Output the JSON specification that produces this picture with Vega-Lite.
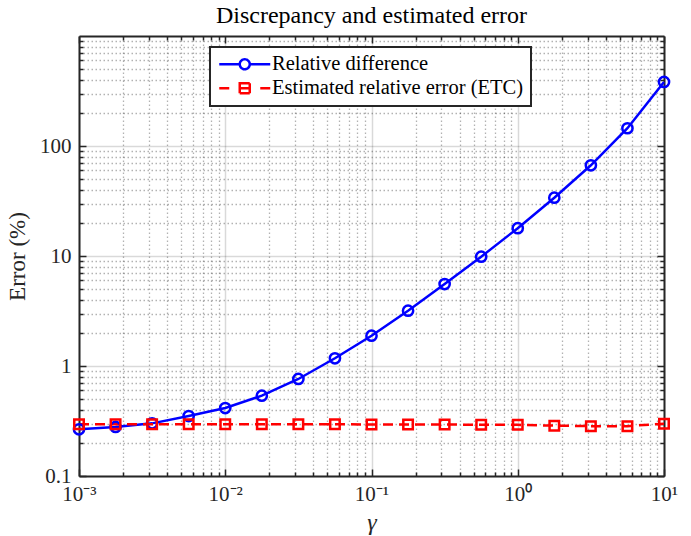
{
  "$schema": "https://vega.github.io/schema/vega-lite/v6.json",
  "width": 585,
  "height": 440,
  "autosize": "none",
  "padding": {"left": 79, "top": 36, "right": 27, "bottom": 60},
  "background": "white",
  "title": {
    "text": "Discrepancy and estimated error",
    "font": "Liberation Serif",
    "fontSize": 24,
    "fontWeight": "normal",
    "color": "#000000",
    "anchor": "middle",
    "baseline": "bottom",
    "offset": -17
  },
  "config": {
    "view": {"stroke": null},
    "axis": {
      "labelFont": "Liberation Serif",
      "titleFont": "Liberation Serif",
      "labelColor": "#262626",
      "titleColor": "#262626",
      "domainColor": "#262626",
      "tickColor": "#262626",
      "domainWidth": 2,
      "tickWidth": 1.5,
      "labelFlush": false,
      "labelOverlap": false,
      "zindex": 0
    }
  },
  "data": {
    "values": [
      {"g": 0.001, "series": "Relative difference", "v": 0.266},
      {"g": 0.0017783, "series": "Relative difference", "v": 0.279},
      {"g": 0.0031623, "series": "Relative difference", "v": 0.301},
      {"g": 0.0056234, "series": "Relative difference", "v": 0.351},
      {"g": 0.01, "series": "Relative difference", "v": 0.415},
      {"g": 0.017783, "series": "Relative difference", "v": 0.537},
      {"g": 0.031623, "series": "Relative difference", "v": 0.762},
      {"g": 0.056234, "series": "Relative difference", "v": 1.175},
      {"g": 0.1, "series": "Relative difference", "v": 1.885},
      {"g": 0.17783, "series": "Relative difference", "v": 3.18},
      {"g": 0.31623, "series": "Relative difference", "v": 5.56},
      {"g": 0.56234, "series": "Relative difference", "v": 9.86},
      {"g": 1, "series": "Relative difference", "v": 17.9},
      {"g": 1.7783, "series": "Relative difference", "v": 33.9},
      {"g": 3.1623, "series": "Relative difference", "v": 66.8},
      {"g": 5.6234, "series": "Relative difference", "v": 145},
      {"g": 10, "series": "Relative difference", "v": 382},
      {"g": 0.001, "series": "Estimated relative error (ETC)", "v": 0.296},
      {"g": 0.0017783, "series": "Estimated relative error (ETC)", "v": 0.296},
      {"g": 0.0031623, "series": "Estimated relative error (ETC)", "v": 0.296},
      {"g": 0.0056234, "series": "Estimated relative error (ETC)", "v": 0.296},
      {"g": 0.01, "series": "Estimated relative error (ETC)", "v": 0.296},
      {"g": 0.017783, "series": "Estimated relative error (ETC)", "v": 0.296},
      {"g": 0.031623, "series": "Estimated relative error (ETC)", "v": 0.296},
      {"g": 0.056234, "series": "Estimated relative error (ETC)", "v": 0.296},
      {"g": 0.1, "series": "Estimated relative error (ETC)", "v": 0.294},
      {"g": 0.17783, "series": "Estimated relative error (ETC)", "v": 0.294},
      {"g": 0.31623, "series": "Estimated relative error (ETC)", "v": 0.294},
      {"g": 0.56234, "series": "Estimated relative error (ETC)", "v": 0.292},
      {"g": 1, "series": "Estimated relative error (ETC)", "v": 0.292},
      {"g": 1.7783, "series": "Estimated relative error (ETC)", "v": 0.287},
      {"g": 3.1623, "series": "Estimated relative error (ETC)", "v": 0.284},
      {"g": 5.6234, "series": "Estimated relative error (ETC)", "v": 0.284},
      {"g": 10, "series": "Estimated relative error (ETC)", "v": 0.299}
    ]
  },
  "encoding": {
    "x": {
      "field": "g",
      "type": "quantitative",
      "scale": {"type": "log", "domain": [0.001, 10], "nice": false}
    },
    "y": {
      "field": "v",
      "type": "quantitative",
      "scale": {"type": "log", "domain": [0.1, 1000], "nice": false}
    },
    "color": {
      "field": "series",
      "type": "nominal",
      "scale": {
        "domain": ["Relative difference", "Estimated relative error (ETC)"],
        "range": ["#0000ff", "#ff0000"]
      },
      "legend": {
        "orient": "none",
        "legendX": 131,
        "legendY": 11,
        "title": null,
        "padding": 7,
        "rowPadding": 3,
        "strokeColor": "#262626",
        "fillColor": "white",
        "symbolSize": 100,
        "symbolOffset": 17.5,
        "labelOffset": 17,
        "labelFont": "Liberation Serif",
        "labelFontSize": 20.5,
        "labelColor": "#000000",
        "labelLimit": 400,
        "encode": {
          "legend": {"update": {"strokeWidth": {"value": 2}}},
          "symbols": {
            "update": {
              "shape": {"signal": "datum.value === 'Relative difference' ? 'M-5.1,0H-1M1,0H5.1M-1,0A1,1,0,1,0,1,0A1,1,0,1,0,-1,0' : 'M-5.1,0H-3.1M-1,-1H1V1H-1ZM-1,0H1M3.1,0H5.1'"},
              "fill": {"value": "transparent"},
              "strokeWidth": {"value": 2.5},
              "strokeDash": {"value": [1, 0]},
              "size": {"value": 100},
              "opacity": {"value": 1}
            }
          }
        }
      }
    }
  },
  "layer": [
    {
      "transform": [{"filter": "datum.series === 'Relative difference'"}],
      "mark": {"type": "line", "strokeWidth": 2.5},
      "encoding": {
        "x": {
          "field": "g", "type": "quantitative",
          "axis": {
            "orient": "bottom",
            "values": [0.001, 0.01, 0.1, 1, 10],
            "labelExpr": "'10' + (datum.value < 0.005 ? '⁻³' : datum.value < 0.05 ? '⁻²' : datum.value < 0.5 ? '⁻¹' : datum.value < 5 ? '⁰' : '¹')",
            "labelFontSize": 21,
            "labelPadding": 14,
            "tickSize": -7,
            "grid": true,
            "gridColor": "#000000",
            "gridOpacity": 0.15,
            "gridWidth": 1.5,
            "title": "γ",
            "titleFontSize": 24,
            "titleFontStyle": "italic",
            "titleFontWeight": "normal",
            "titlePadding": 6
          }
        },
        "y": {
          "field": "v", "type": "quantitative",
          "axis": {
            "orient": "left",
            "values": [0.1, 1, 10, 100],
            "labelExpr": "datum.value < 0.5 ? '0.1' : format(datum.value, 'd')",
            "labelFontSize": 21,
            "labelPadding": 15,
            "tickSize": -7,
            "grid": true,
            "gridColor": "#000000",
            "gridOpacity": 0.15,
            "gridWidth": 1.5,
            "title": "Error (%)",
            "titleFontSize": 23,
            "titleFontWeight": "normal",
            "titlePadding": 10
          }
        }
      }
    },
    {
      "transform": [{"filter": "datum.series !== 'Relative difference'"}],
      "mark": {"type": "line", "strokeWidth": 2.5, "strokeDash": [10, 6]},
      "encoding": {
        "x": {
          "field": "g", "type": "quantitative",
          "axis": {
            "orient": "bottom",
            "values": [0.002, 0.003, 0.004, 0.005, 0.006, 0.007, 0.008, 0.009, 0.02, 0.03, 0.04, 0.05, 0.06, 0.07, 0.08, 0.09, 0.2, 0.3, 0.4, 0.5, 0.6, 0.7, 0.8, 0.9, 2, 3, 4, 5, 6, 7, 8, 9],
            "labels": false,
            "domain": false,
            "tickSize": -4,
            "grid": true,
            "gridColor": "#000000",
            "gridOpacity": 0.3,
            "gridWidth": 1.3,
            "gridDash": [1.5, 2.5],
            "title": null
          }
        },
        "y": {
          "field": "v", "type": "quantitative",
          "axis": {
            "orient": "left",
            "values": [0.2, 0.3, 0.4, 0.5, 0.6, 0.7, 0.8, 0.9, 2, 3, 4, 5, 6, 7, 8, 9, 20, 30, 40, 50, 60, 70, 80, 90, 200, 300, 400, 500, 600, 700, 800, 900],
            "labels": false,
            "domain": false,
            "tickSize": -4,
            "grid": true,
            "gridColor": "#000000",
            "gridOpacity": 0.3,
            "gridWidth": 1.3,
            "gridDash": [1.5, 2.5],
            "title": null
          }
        }
      }
    },
    {
      "transform": [{"filter": "datum.series === 'Relative difference'"}],
      "mark": {"type": "point", "shape": "circle", "filled": false, "size": 105, "strokeWidth": 2.5, "opacity": 1},
      "encoding": {
        "x": {
          "field": "g", "type": "quantitative",
          "axis": {
            "orient": "top",
            "values": [0.001, 0.01, 0.1, 1, 10],
            "labels": false,
            "grid": false,
            "tickSize": -7,
            "title": null
          }
        },
        "y": {
          "field": "v", "type": "quantitative",
          "axis": {
            "orient": "right",
            "values": [0.1, 1, 10, 100],
            "labels": false,
            "grid": false,
            "tickSize": -7,
            "title": null
          }
        }
      }
    },
    {
      "transform": [{"filter": "datum.series !== 'Relative difference'"}],
      "mark": {"type": "point", "shape": "square", "filled": false, "size": 90, "strokeWidth": 2.5, "opacity": 1},
      "encoding": {
        "x": {
          "field": "g", "type": "quantitative",
          "axis": {
            "orient": "top",
            "values": [0.002, 0.003, 0.004, 0.005, 0.006, 0.007, 0.008, 0.009, 0.02, 0.03, 0.04, 0.05, 0.06, 0.07, 0.08, 0.09, 0.2, 0.3, 0.4, 0.5, 0.6, 0.7, 0.8, 0.9, 2, 3, 4, 5, 6, 7, 8, 9],
            "labels": false,
            "domain": false,
            "grid": false,
            "tickSize": -4,
            "title": null
          }
        },
        "y": {
          "field": "v", "type": "quantitative",
          "axis": {
            "orient": "right",
            "values": [0.2, 0.3, 0.4, 0.5, 0.6, 0.7, 0.8, 0.9, 2, 3, 4, 5, 6, 7, 8, 9, 20, 30, 40, 50, 60, 70, 80, 90, 200, 300, 400, 500, 600, 700, 800, 900],
            "labels": false,
            "domain": false,
            "grid": false,
            "tickSize": -4,
            "title": null
          }
        }
      }
    }
  ],
  "resolve": {"axis": {"x": "independent", "y": "independent"}}
}
